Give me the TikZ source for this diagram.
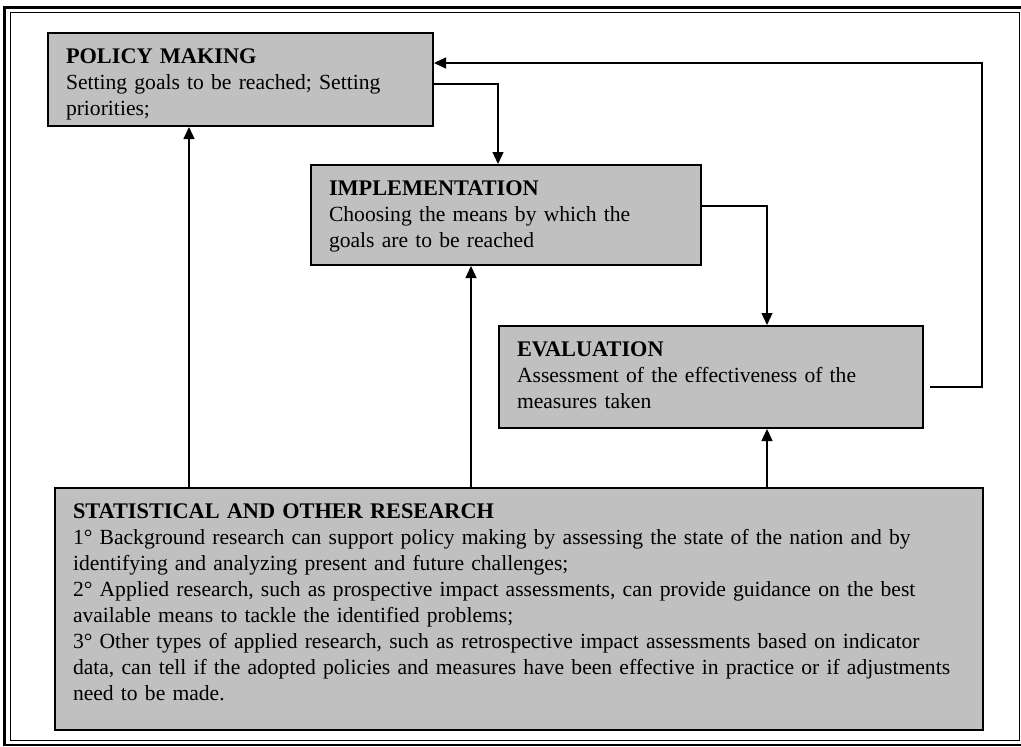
\documentclass[tikz,border=0pt]{standalone}
\usepackage{fontspec}
\setmainfont{Liberation Serif}
\usepackage{tikz}
\usetikzlibrary{arrows.meta,positioning,calc}
\definecolor{boxgray}{HTML}{C0C0C0}
\hyphenpenalty=10000
\newcommand{\boxhead}[1]{{\fontsize{22.3}{26}\selectfont\bfseries #1}}
\tikzstyle{box}=[draw=black, fill=boxgray, line width=2pt, anchor=north west,
        align=left, inner xsep=18pt, inner ysep=0pt, text height=30.5pt,
        font=\fontsize{21.6}{26}\selectfont]
\tikzstyle{arr}=[-{Triangle[length=12pt,width=11pt]}, line width=1.3pt]

\begin{document}
\begin{tikzpicture}[x=1pt, y=-1pt]

        \useasboundingbox (0,0) rectangle (1021,747);
        \draw[line width=2.5pt] (4.3,7.5) rectangle (1025,745);
        \draw[line width=1pt] (10,12.7) rectangle (1019,740);

        \node[box, text width=349pt, text depth=62.5pt] (policy) at (47,32)
            {\boxhead{POLICY MAKING}\\Setting goals to be reached; Setting\\priorities;};
        \node[box, text width=354pt, text depth=69.5pt] (impl) at (310,164)
            {\boxhead{IMPLEMENTATION}\\Choosing the means by which the\\goals are to be reached};
        \node[box, text width=388pt, text depth=71.5pt] (eval) at (498,325)
            {\boxhead{EVALUATION}\\Assessment of the effectiveness of the\\measures taken};
        \node[box, text width=892pt, text depth=211.5pt] (research) at (54,487)
            {\boxhead{STATISTICAL AND OTHER RESEARCH}\\
            1° Background research can support policy making by assessing the state of the nation and by\\
            identifying and analyzing present and future challenges;\\
            2° Applied research, such as prospective impact assessments, can provide guidance on the best\\
            available means to tackle the identified problems;\\
            3° Other types of applied research, such as retrospective impact assessments based on indicator\\
            data, can tell if the adopted policies and measures have been effective in practice or if adjustments\\
            need to be made.};

        \coordinate (colA) at (189,0);
        \coordinate (colB) at (471,0);
        \coordinate (colC) at (767,0);
        \coordinate (bendA) at (498,0);
        \coordinate (fbtop) at (982,63);

        \draw[arr] ([yshift=-4.5pt]policy.east) -| (impl.north -| bendA);
        \draw[arr] ([yshift=9pt]impl.east) -| (eval.north -| colC);
        \draw[arr] ([xshift=6pt,yshift=-10pt]eval.east) -| (fbtop)
            -- (policy.east |- fbtop);

        \draw[arr] (research.north -| colA) -- (policy.south -| colA);
        \draw[arr] (research.north -| colB) -- (impl.south -| colB);
        \draw[arr] (research.north -| colC) -- (eval.south -| colC);

    \end{tikzpicture}
\end{document}
